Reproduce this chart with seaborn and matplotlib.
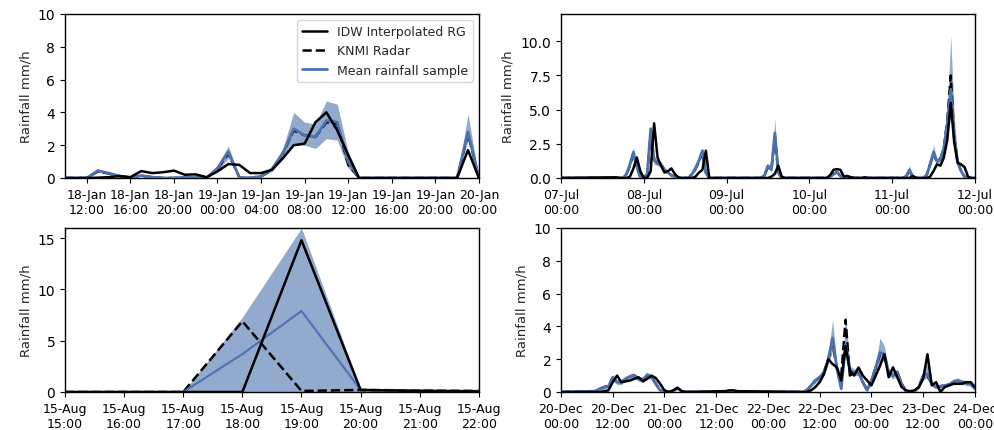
import pandas as pd
import numpy as np
import matplotlib
matplotlib.use("Agg")
import matplotlib.pyplot as plt
import matplotlib.dates as mdates
from matplotlib.lines import Line2D
import seaborn as sns

# --- Dados ---
# Painel 1: 18-Jan 10:00 -> 20-Jan 00:00, horário
p1_start = "2018-01-18 10:00"
p1_idw = [0, 0, 0, 0.02, 0.05, 0.12, 0.05, 0.42, 0.3, 0.35, 0.45, 0.2, 0.22, 0.05,
          0.4, 0.85, 0.8, 0.3, 0.3, 0.5, 1.2, 2.0, 2.1, 3.4, 4.0, 2.9, 1.4, 0,
          0, 0, 0, 0, 0, 0, 0, 0, 0, 1.7, 0]
p1_knmi = [0, 0, 0, 0.4, 0.28, 0.1, 0.03, 0.14, 0.05, 0, 0, 0.05, 0.03, 0,
           0.55, 1.5, 0.05, 0, 0.1, 0.5, 1.5, 2.9, 2.6, 2.5, 3.4, 3.3, 0.8, 0,
           0, 0, 0, 0, 0, 0, 0, 0, 0, 2.7, 0]
p1_mean = [0, 0, 0, 0.45, 0.3, 0.12, 0.03, 0.15, 0.05, 0, 0, 0.05, 0.03, 0,
           0.6, 1.6, 0.05, 0, 0.1, 0.55, 1.5, 3.0, 2.6, 2.5, 3.5, 3.4, 1.0, 0,
           0, 0, 0, 0, 0, 0, 0, 0, 0, 2.8, 0]
p1_lo = [0, 0, 0, 0.35, 0.22, 0.08, 0, 0.1, 0.02, 0, 0, 0.02, 0, 0,
         0.4, 1.2, 0, 0, 0.05, 0.4, 1.2, 2.0, 2.0, 1.8, 2.4, 2.3, 0.6, 0,
         0, 0, 0, 0, 0, 0, 0, 0, 0, 2.3, 0]
p1_hi = [0, 0, 0, 0.55, 0.38, 0.16, 0.06, 0.2, 0.08, 0, 0, 0.08, 0.05, 0,
         0.8, 1.95, 0.1, 0.02, 0.15, 0.65, 1.8, 4.0, 3.4, 3.3, 4.7, 4.5, 1.6, 0.05,
         0, 0, 0, 0, 0, 0, 0, 0, 0, 3.9, 0]

# Painel 2: 07-Jul 00:00 -> 12-Jul 00:00 (horas desde o início)
p2_start = "2018-07-07 00:00"
p2_hours = [0, 16, 17, 18, 19, 20, 21, 22, 23, 24, 25, 26, 27, 28, 29, 30, 31, 32, 33, 34, 35,
            37, 38, 39, 40, 41, 42, 43, 44, 58, 59, 60, 61, 62, 63, 64, 65,
            77, 78, 79, 80, 81, 82, 83, 84, 85, 87, 88, 89, 99, 100, 101, 102, 103,
            105, 106, 107, 108, 109, 110, 111, 112, 113, 114, 115, 116, 117, 118, 119, 120]
p2_idw = [0, 0.05, 0, 0, 0, 0.1, 0.7, 1.5, 0.5, 0, 0, 0.5, 4.0, 1.5, 0.9, 0.4, 0.5, 0.7, 0.3, 0.05, 0,
          0, 0, 0.1, 0.4, 0.6, 2.0, 0, 0, 0, 0, 0, 0.1, 0.3, 0.9, 0.1, 0,
          0, 0.2, 0.6, 0.65, 0.6, 0.1, 0.15, 0.05, 0, 0, 0.05, 0, 0, 0, 0, 0.15, 0,
          0, 0, 0.1, 0.5, 1.0, 0.9, 1.5, 2.8, 5.5, 2.6, 1.1, 1.0, 0.8, 0.1, 0, 0]
p2_knmi = [0, 0, 0, 0, 0.3, 0.9, 1.8, 0.8, 0.05, 0, 0.3, 3.2, 1.3, 1.1, 1.0, 0.6, 0.4, 0.2, 0.1, 0, 0,
           0, 0.3, 0.7, 1.2, 1.9, 0.4, 0, 0, 0, 0.2, 0.8, 0.6, 3.0, 0.4, 0, 0,
           0, 0.1, 0.3, 0.45, 0.15, 0.05, 0.1, 0.05, 0, 0, 0, 0, 0, 0.1, 0.5, 0.1, 0,
           0, 0.2, 1.0, 1.8, 1.2, 1.4, 2.2, 4.2, 7.5, 3.0, 1.2, 0.5, 0.1, 0, 0, 0]
p2_mean = [0, 0, 0, 0, 0.3, 1.0, 1.9, 0.8, 0.05, 0, 0.3, 3.6, 1.3, 1.1, 1.0, 0.6, 0.4, 0.2, 0.1, 0, 0,
           0, 0.3, 0.7, 1.3, 2.0, 0.4, 0, 0, 0, 0.2, 0.9, 0.6, 3.3, 0.4, 0, 0,
           0, 0.1, 0.3, 0.45, 0.15, 0.05, 0.1, 0.05, 0, 0, 0, 0, 0, 0.1, 0.6, 0.1, 0,
           0, 0.2, 1.0, 1.9, 1.2, 1.4, 2.2, 4.0, 6.5, 3.0, 1.2, 0.5, 0.1, 0, 0, 0]
p2_lo = [0, 0, 0, 0, 0.2, 0.8, 1.6, 0.6, 0, 0, 0.2, 3.1, 1.0, 0.9, 0.8, 0.5, 0.3, 0.1, 0.05, 0, 0,
         0, 0.2, 0.5, 1.1, 1.7, 0.3, 0, 0, 0, 0.1, 0.7, 0.5, 2.5, 0.3, 0, 0,
         0, 0.05, 0.2, 0.35, 0.1, 0, 0.05, 0, 0, 0, 0, 0, 0, 0.05, 0.4, 0.05, 0,
         0, 0.1, 0.8, 1.5, 1.0, 1.2, 1.9, 3.2, 4.5, 2.4, 1.0, 0.4, 0.05, 0, 0, 0]
p2_hi = [0, 0, 0, 0, 0.4, 1.2, 2.2, 1.0, 0.1, 0, 0.4, 3.9, 1.6, 1.3, 1.2, 0.7, 0.5, 0.3, 0.15, 0, 0,
         0, 0.4, 0.9, 1.5, 2.2, 0.5, 0, 0, 0, 0.3, 1.0, 0.7, 4.3, 0.5, 0, 0,
         0, 0.15, 0.4, 0.55, 0.2, 0.1, 0.15, 0.1, 0, 0, 0, 0, 0, 0.15, 0.9, 0.15, 0,
         0, 0.3, 1.2, 2.4, 1.4, 1.6, 2.6, 5.0, 10.4, 4.5, 1.5, 0.6, 0.15, 0, 0, 0]

# Painel 3: 15-Aug 15:00 -> 22:00, horário
p3_start = "2018-08-15 15:00"
p3_idw = [0, 0, 0, 0, 14.8, 0.2, 0.1, 0.05]
p3_knmi = [0, 0, 0, 6.9, 0.1, 0.2, 0.15, 0.1]
p3_mean = [0, 0, 0, 3.7, 7.9, 0.2, 0.15, 0.1]
p3_lo = [0, 0, 0, 0, 0, 0, 0, 0]
p3_hi = [0, 0, 0, 7.3, 16.0, 0.3, 0.2, 0.1]

# Painel 4: 20-Dec 00:00 -> 24-Dec 00:00 (horas desde o início)
p4_start = "2018-12-20 00:00"
p4_hours = [0, 8, 9, 10, 11, 12, 13, 14, 15, 16, 17, 18, 19, 20, 21, 22, 23, 24, 25, 26, 27, 28, 29,
            38, 39, 40, 41,
            56, 57, 58, 59, 60, 61, 62, 63, 64, 65, 66, 67, 68, 69, 70, 71, 72, 73, 74, 75, 76,
            77, 78, 79, 80, 81, 82, 83, 84, 85, 86, 87, 88, 89, 90, 91, 92, 93, 94, 95, 96]
p4_idw = [0, 0, 0, 0.05, 0.1, 0.6, 1.0, 0.6, 0.65, 0.7, 0.8, 0.9, 0.65, 0.8, 1.0, 0.85, 0.5, 0.1, 0, 0.1, 0.25, 0.05, 0,
          0.05, 0.1, 0.1, 0.05,
          0, 0, 0.1, 0.3, 0.6, 1.1, 2.0, 1.7, 1.5, 0.7, 2.8, 1.3, 1.0, 1.5, 1.0, 0.7, 0.4, 1.0, 1.6, 2.3, 0.9,
          1.5, 0.9, 0.3, 0.1, 0.05, 0.1, 0.3, 0.8, 2.3, 0.4, 0.6, 0.0, 0.3, 0.4, 0.5, 0.5, 0.5, 0.6, 0.6, 0.3]
p4_knmi = [0, 0.05, 0.2, 0.3, 0.35, 0.85, 0.6, 0.6, 0.8, 0.95, 1.0, 0.8, 0.75, 1.0, 0.9, 0.5, 0.1, 0, 0, 0.05, 0.25, 0.05, 0,
           0, 0.05, 0.05, 0,
           0, 0.1, 0.4, 0.7, 0.9, 1.2, 2.0, 3.0, 1.4, 1.0, 4.4, 1.0, 1.2, 1.2, 0.6, 0.1, 0.7, 1.5, 2.3, 2.2, 1.2,
           1.0, 1.2, 0.5, 0.05, 0, 0.05, 0.3, 1.0, 1.0, 0.5, 0.3, 0.35, 0.4, 0.45, 0.6, 0.7, 0.6, 0.55, 0.5, 0.2]
p4_mean = [0, 0.05, 0.2, 0.3, 0.35, 0.9, 0.6, 0.6, 0.8, 0.95, 1.0, 0.8, 0.75, 1.05, 0.9, 0.5, 0.1, 0, 0, 0.05, 0.25, 0.05, 0,
           0, 0.05, 0.05, 0,
           0, 0.1, 0.4, 0.7, 0.9, 1.2, 2.0, 3.3, 1.4, 0.2, 2.9, 1.3, 1.2, 1.2, 0.6, 0.1, 0.7, 1.5, 2.4, 2.3, 1.2,
           1.0, 1.2, 0.5, 0.05, 0, 0.05, 0.3, 1.0, 1.1, 0.5, 0.3, 0.35, 0.4, 0.45, 0.6, 0.7, 0.6, 0.55, 0.5, 0.2]
p4_lo = [0, 0, 0.1, 0.2, 0.25, 0.7, 0.45, 0.45, 0.65, 0.8, 0.85, 0.65, 0.6, 0.9, 0.75, 0.35, 0.05, 0, 0, 0, 0.2, 0, 0,
         0, 0, 0, 0,
         0, 0.05, 0.3, 0.55, 0.75, 1.0, 1.7, 2.5, 1.1, 0.1, 2.3, 1.0, 1.0, 1.0, 0.45, 0.05, 0.55, 1.2, 1.9, 1.9, 1.0,
         0.8, 1.0, 0.35, 0, 0, 0, 0.2, 0.8, 0.8, 0.35, 0.2, 0.25, 0.3, 0.35, 0.45, 0.55, 0.45, 0.4, 0.35, 0.1]
p4_hi = [0, 0.1, 0.3, 0.4, 0.45, 1.05, 0.75, 0.75, 0.95, 1.1, 1.15, 0.95, 0.9, 1.2, 1.05, 0.65, 0.15, 0.05, 0, 0.1, 0.3, 0.1, 0,
         0, 0.1, 0.1, 0,
         0, 0.15, 0.5, 0.85, 1.05, 1.4, 2.4, 4.4, 1.7, 0.3, 4.8, 1.6, 1.4, 1.4, 0.75, 0.15, 0.85, 1.8, 3.3, 2.8, 1.4,
         1.2, 1.4, 0.65, 0.1, 0.05, 0.1, 0.4, 1.3, 1.7, 0.65, 0.4, 0.45, 0.5, 0.55, 0.8, 0.85, 0.75, 0.7, 0.65, 0.3]

BLUE = "#4c72b0"

# --- Configurações globais ---
sns.set_style("ticks")
plt.rcParams['font.family'] = ['DejaVu Sans']
plt.rcParams['axes.edgecolor'] = 'black'
plt.rcParams['axes.linewidth'] = 1.0
plt.rcParams['xtick.color'] = 'black'
plt.rcParams['ytick.color'] = 'black'


def hourly(start, n):
    return pd.date_range(start, periods=n, freq="h")


def at_hours(start, hours):
    return pd.Timestamp(start) + pd.to_timedelta(hours, unit="h")


def draw(ax, t, idw, knmi, mean, lo, hi, mean_lw=2.0):
    ax.fill_between(t, lo, hi, color=BLUE, alpha=0.6, lw=0, zorder=1)
    sns.lineplot(x=t, y=knmi, ax=ax, color='black', lw=1.8, linestyle='--', zorder=2)
    sns.lineplot(x=t, y=mean, ax=ax, color=BLUE, lw=mean_lw, zorder=3)
    sns.lineplot(x=t, y=idw, ax=ax, color='black', lw=1.8, zorder=4)
    ax.set_ylabel('Rainfall mm/h', fontsize=9.5)
    ax.set_xlabel('')
    ax.tick_params(axis='x', labelsize=9)
    ax.tick_params(axis='y', labelsize=10)


fig = plt.figure(figsize=(9.95, 4.31), dpi=100)
w, h = 0.416, 0.3805
ax1 = fig.add_axes([0.0653, 0.5847, w, h])
ax2 = fig.add_axes([0.5638, 0.5847, w, h])
ax3 = fig.add_axes([0.0653, 0.0882, w, h])
ax4 = fig.add_axes([0.5638, 0.0882, w, h])

t1 = hourly(p1_start, len(p1_idw))
draw(ax1, t1, p1_idw, p1_knmi, p1_mean, p1_lo, p1_hi)
ax1.set_xlim(t1[0], t1[-1])
ax1.set_ylim(0, 10)
ax1.xaxis.set_major_locator(mdates.HourLocator(byhour=[0, 4, 8, 12, 16, 20]))

t2 = at_hours(p2_start, p2_hours)
draw(ax2, t2, p2_idw, p2_knmi, p2_mean, p2_lo, p2_hi)
ax2.set_xlim(t2[0], t2[-1])
ax2.set_ylim(0, 12)
ax2.set_yticks([0, 2.5, 5, 7.5, 10])
ax2.set_yticklabels(['0.0', '2.5', '5.0', '7.5', '10.0'])
ax2.xaxis.set_major_locator(mdates.DayLocator())

t3 = hourly(p3_start, len(p3_idw))
draw(ax3, t3, p3_idw, p3_knmi, p3_mean, p3_lo, p3_hi, mean_lw=1.5)
ax3.set_xlim(t3[0], t3[-1])
ax3.set_ylim(0, 16)
ax3.set_yticks([0, 5, 10, 15])
ax3.xaxis.set_major_locator(mdates.HourLocator())

t4 = at_hours(p4_start, p4_hours)
draw(ax4, t4, p4_idw, p4_knmi, p4_mean, p4_lo, p4_hi)
ax4.set_xlim(t4[0], t4[-1])
ax4.set_ylim(0, 10)
ax4.xaxis.set_major_locator(mdates.HourLocator(byhour=[0, 12]))

for ax in (ax1, ax2, ax3, ax4):
    ax.xaxis.set_major_formatter(mdates.DateFormatter('%d-%b\n%H:%M'))
    for lbl in ax.get_xticklabels():
        lbl.set_ha('center')

# Legenda apenas no primeiro painel
handles = [Line2D([], [], color='black', lw=1.8),
           Line2D([], [], color='black', lw=1.8, linestyle='--'),
           Line2D([], [], color=BLUE, lw=2)]
ax1.legend(handles, ['IDW Interpolated RG', 'KNMI Radar', 'Mean rainfall sample'],
           loc='upper right', fontsize=9, frameon=True)

fig.savefig('out.png', dpi=100)
plt.close()
